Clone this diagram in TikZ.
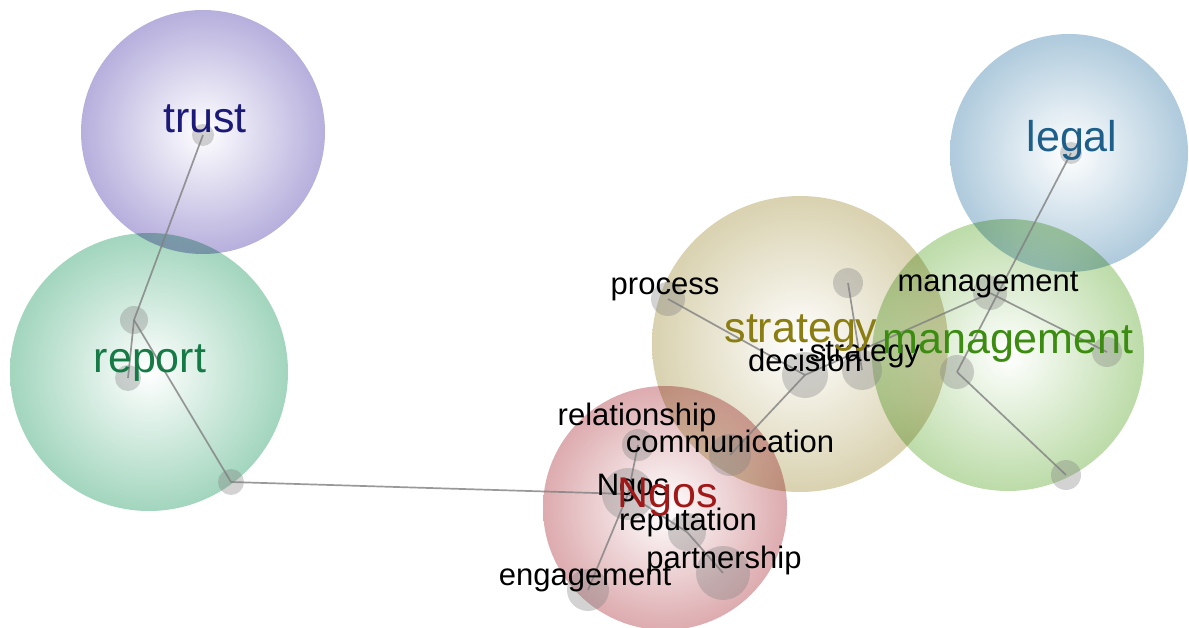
\documentclass[tikz,border=0pt]{standalone}
\usepackage{fontspec}
\setmainfont{Liberation Sans}
\usepackage{tikz}

\definecolor{trustfill}{RGB}{138,127,200}
\definecolor{reportfill}{RGB}{106,188,150}
\definecolor{legalfill}{RGB}{126,170,199}
\definecolor{strategyfill}{RGB}{194,182,128}
\definecolor{managementfill}{RGB}{148,198,116}
\definecolor{ngosfill}{RGB}{200,120,126}
\definecolor{trusttext}{RGB}{28,26,120}
\definecolor{reporttext}{RGB}{21,122,69}
\definecolor{legaltext}{RGB}{29,95,138}
\definecolor{strategytext}{RGB}{138,125,18}
\definecolor{managementtext}{RGB}{61,140,18}
\definecolor{ngostext}{RGB}{160,24,24}

\colorlet{bubblecol}{gray}
\pgfdeclareradialshading[bubblecol]{bubbleshade}{\pgfpoint{0bp}{0bp}}{color(0bp)=(white); color(24bp)=(bubblecol!60!white); color(46bp)=(bubblecol); color(50bp)=(bubblecol)}

\begin{document}
\begin{tikzpicture}[x=1pt, y=-1pt,
    bubble/.style={circle, inner sep=0pt, shading=bubbleshade, /utils/exec={\colorlet{bubblecol}{#1}}},
    dot/.style={circle, inner sep=0pt, fill=black!50, fill opacity=0.35, minimum size=2*#1},
    link/.style={draw=black!50, draw opacity=0.8, line width=1.7pt},
    big/.style={anchor=base, font=\fontsize{43}{43}\selectfont},
    small/.style={anchor=base, font=\fontsize{31}{31}\selectfont}]
            \useasboundingbox (0, 0) rectangle (1189, 628);
            \begin{scope}[blend mode=multiply]
            \draw (203, 132) node[bubble=trustfill, minimum size=244](btrust){};
            \draw (149, 372) node[bubble=reportfill, minimum size=278](breport){};
            \draw (800, 344) node[bubble=strategyfill, minimum size=296](bstrategy){};
            \draw (1008, 355) node[bubble=managementfill, minimum size=272](bmanagement){};
            \draw (1069, 153) node[bubble=legalfill, minimum size=238](blegal){};
            \draw (665, 508) node[bubble=ngosfill, minimum size=244](bngos){};
            \end{scope}
            \draw (203, 135) node[dot=11](dtrust){};
            \draw (134, 320) node[dot=14](da){};
            \draw (128, 378) node[dot=13](db){};
            \draw (231, 482) node[dot=13](dc){};
            \draw (628, 494) node[dot=26](dngos){};
            \draw (638, 445) node[dot=16](drel){};
            \draw (730, 455) node[dot=21](dcomm){};
            \draw (687, 532) node[dot=19](drep){};
            \draw (723, 573) node[dot=27](dpart){};
            \draw (588, 590) node[dot=21](deng){};
            \draw (805, 375) node[dot=23](ddec){};
            \draw (862, 370) node[dot=20](dstrat){};
            \draw (848, 283) node[dot=15](dtop){};
            \draw (668, 299) node[dot=17](dproc){};
            \draw (990, 293) node[dot=17](dmgmt){};
            \draw (1107, 352) node[dot=15](dright){};
            \draw (957, 372) node[dot=17](dmid){};
            \draw (1066, 475) node[dot=15](dbot){};
            \draw (1071, 153) node[dot=11](dlegal){};
            \draw[link] (dtrust.center) -- (da.center);
            \draw[link] (da.center) -- (db.center);
            \draw[link] (da.center) -- (dc.center);
            \draw[link] (dc.center) -- (dngos.center);
            \draw[link] (dngos.center) -- (drel.center);
            \draw[link] (dngos.center) -- (deng.center);
            \draw[link] (dngos.center) -- (drep.center);
            \draw[link] (drep.center) -- (dpart.center);
            \draw[link] (dcomm.center) -- (ddec.center);
            \draw[link] (dproc.center) -- (ddec.center);
            \draw[link] (dtop.center) -- (dstrat.center);
            \draw[link] (ddec.center) -- (dmgmt.center);
            \draw[link] (dmgmt.center) -- (dright.center);
            \draw[link] (dlegal.center) -- (dmid.center);
            \draw[link] (dmid.center) -- (dbot.center);
            \draw (665, 295) node[small](process){process};
            \draw (988, 292) node[small](management){management};
            \draw (805, 371) node[small](decision){decision};
            \draw (865, 362) node[small](strategy){strategy};
            \draw (637, 425) node[small](relationship){relationship};
            \draw (730, 452) node[small](communication){communication};
            \draw (633, 495) node[small](ngos){Ngos};
            \draw (688, 530) node[small](reputation){reputation};
            \draw (724, 568) node[small](partnership){partnership};
            \draw (585, 585) node[small](engagement){engagement};
            \draw (205, 133) node[big, text=trusttext](ltrust){trust};
            \draw (150, 372) node[big, text=reporttext](lreport){report};
            \draw (1072, 152) node[big, text=legaltext](llegal){legal};
            \draw (801, 342) node[big, text=strategytext](lstrategy){strategy};
            \draw (1008, 354) node[big, text=managementtext](lmanagement){management};
            \draw (668, 507) node[big, text=ngostext](lngos){Ngos};
        \end{tikzpicture}
\end{document}
